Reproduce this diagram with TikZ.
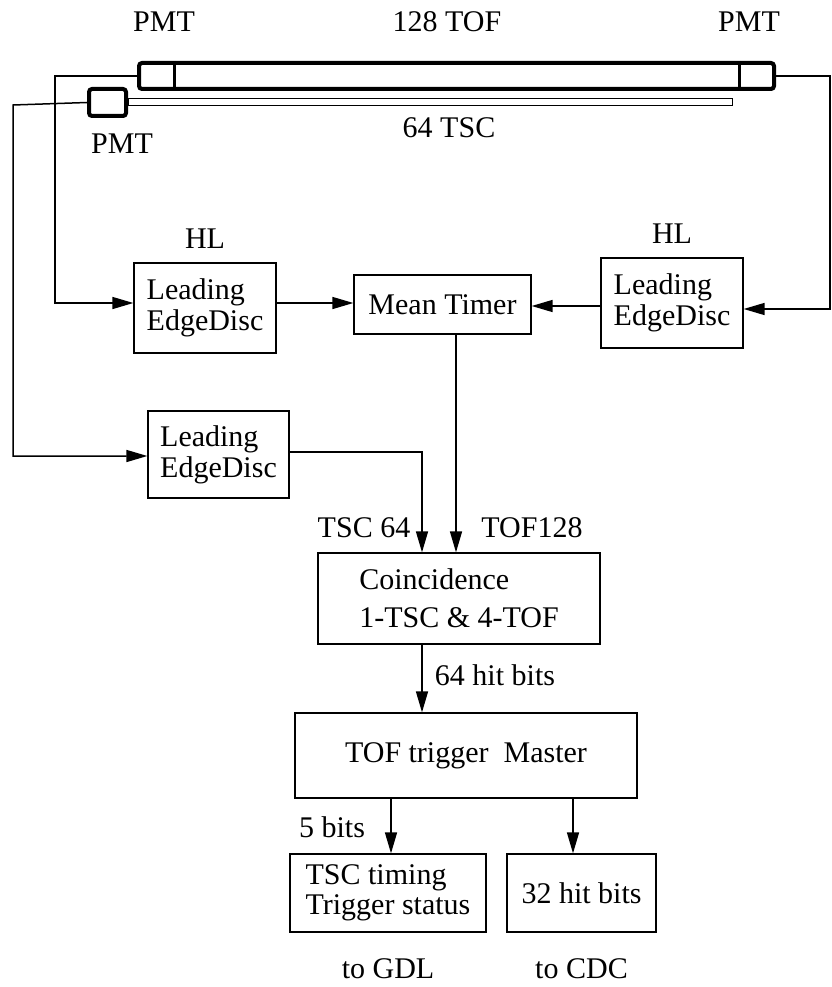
\documentclass[tikz,border=0pt]{standalone}
\usepackage{fontspec}
\setmainfont{Liberation Serif}
\usetikzlibrary{arrows.meta, positioning, calc}
\newcommand{\diagfont}{\fontsize{30}{31}\selectfont}

\begin{document}
\begin{tikzpicture}[
    x=1pt, y=-1pt,
    % --- node styles ---
    blk/.style={rectangle, draw=black, line width=1.3pt, inner sep=0pt,
        align=left, font=\diagfont},
    tag/.style={inner sep=0pt, font=\diagfont},
    pmtbox/.style={rectangle, draw=black, line width=4pt,
        rounded corners=3pt, inner sep=0pt},
    slab/.style={rectangle, draw=black, line width=1pt, inner sep=0pt},
    % --- arrow styles ---
    arr/.style={-{Triangle[length=21pt,width=12pt]}, line width=1.5pt}
]
\useasboundingbox (0,0) rectangle (831,987);

%%% ================= COUNTERS =================
\node (tof) [pmtbox, minimum width=635pt, minimum height=26pt] at (456.5,76) {};
\draw [line width=3pt] ([xshift=37pt]tof.north west) -- ([xshift=37pt]tof.south west);
\draw [line width=3pt] ([xshift=-37pt]tof.north east) -- ([xshift=-37pt]tof.south east);
\node (tsc) [slab, minimum width=604pt, minimum height=7pt] at (430,102.5) {};
\node (pmtS) [pmtbox, minimum width=37pt, minimum height=27pt] at (107.5,102.5) {};

\node (pmtA)   [tag] at (164,22) {PMT};
\node (tofLbl) [tag] at (447,22) {128 TOF};
\node (pmtB)   [tag] at (749,22) {PMT};
\node (tscLbl) [tag] at (449,128) {64 TSC};
\node (pmtC)   [tag] at (122,143.5) {PMT};

%%% ================= DISCRIMINATORS =================
\node (ledL) [blk, minimum width=142pt, minimum height=90pt] at (205,308)
    {Leading\\EdgeDisc};
\node (hlL) [tag, above=14pt of ledL] {HL};
\node (mean) [blk, minimum width=177pt, minimum height=59pt] at (442.5,304.5)
    {Mean Timer};
\node (ledR) [blk, minimum width=142pt, minimum height=90pt] at (672,303)
    {Leading\\EdgeDisc};
\node (hlR) [tag, above=14pt of ledR] {HL};
\node (ledB) [blk, minimum width=141pt, minimum height=87pt] at (218.5,454.5)
    {Leading\\EdgeDisc};

%%% ================= TRIGGER LOGIC =================
\node (coinc) [blk, minimum width=282pt, minimum height=91pt,
    font=\fontsize{30}{38}\selectfont] at (459,598.5)
    {Coincidence\\1-TSC \& 4-TOF};
\node (master) [blk, minimum width=342pt, minimum height=85pt] at (466,755.5)
    {TOF trigger~ Master};
\node (gdl) [blk, minimum width=196pt, minimum height=78pt,
    font=\fontsize{30}{30}\selectfont] at (388,893)
    {TSC timing\\Trigger status};
\node (cdc) [blk, minimum width=149pt, minimum height=78pt] at (581.5,893)
    {32 hit bits};
\node (toGdl) [tag, below=26pt of gdl] {to GDL};
\node (toCdc) [tag, below=26pt of cdc] {to CDC};

\node (tscIn)  [tag] at (364,528) {TSC 64};
\node (tofIn)  [tag] at (532,528) {TOF128};
\node (hits)   [tag] at (495,675.5) {64 hit bits};
\node (bits5)  [tag] at (332,827) {5 bits};

%%% ================= WIRES =================
\coordinate (tofL) at (55,76);
\coordinate (tofR) at (830,76);
\coordinate (tscL) at (13,105);
\coordinate (colTSC) at (422,0);
\coordinate (colTOF) at (456,0);

%% PMT signals
\draw [arr] (tof.west) -- (tofL) |- ([yshift=5pt]ledL.west);
\draw [arr] (tof.east) -- (tofR) |- ([yshift=-6pt]ledR.east);
\draw [arr] (pmtS.west) -- (tscL) |- ([yshift=-1.5pt]ledB.west);

%% Mean timer
\draw [arr] ([yshift=5pt]ledL.east) -- ([yshift=5pt]ledL.east -| mean.west);
\draw [arr] ([yshift=-3pt]ledR.west) -- ([yshift=-3pt]ledR.west -| mean.east);

%% Coincidence and master
\draw [arr] ([yshift=2.5pt]ledB.east) -| (colTSC |- coinc.north);
\draw [arr] (colTOF |- mean.south) -- (colTOF |- coinc.north);
\draw [arr] (colTSC |- coinc.south) -- (colTSC |- master.north);
\draw [arr] ([xshift=3pt]gdl.north |- master.south) -- ([xshift=3pt]gdl.north);
\draw [arr] ([xshift=-8.5pt]cdc.north |- master.south) -- ([xshift=-8.5pt]cdc.north);

\end{tikzpicture}
\end{document}
